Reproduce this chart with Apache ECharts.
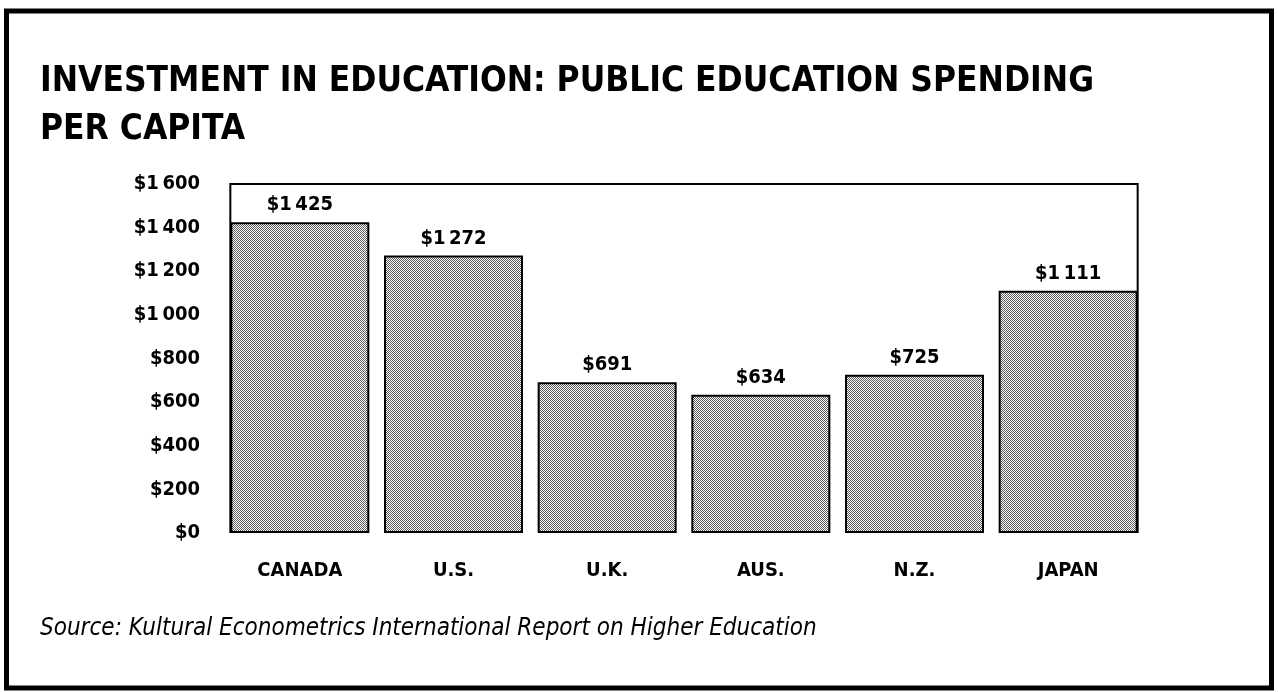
<!DOCTYPE html>
<html>
<head>
<meta charset="utf-8">
<script src="https://cdn.jsdelivr.net/npm/echarts@6/dist/echarts.min.js"></script>
<style>
  html, body { margin: 0; padding: 0; background: #fff; }
  #chart { width: 1278px; height: 692px; }
</style>
</head>
<body>
<div id="chart"></div>
<script>
const titleLines = ['INVESTMENT IN EDUCATION: PUBLIC EDUCATION SPENDING', 'PER CAPITA'];
const categories = ['CANADA', 'U.S.', 'U.K.', 'AUS.', 'N.Z.', 'JAPAN'];
const spending = [1425, 1272, 691, 634, 725, 1111];
const yMin = 0, yMax = 1600, yStep = 200;
const sourceText = 'Source: Kultural Econometrics International Report on Higher Education';

const FONT = "'Liberation Sans Narrow', 'DejaVu Sans Condensed', 'Arial Narrow', sans-serif";

function money(v) {
  const s = String(Math.round(v));
  if (s.length > 3) return '$' + s.slice(0, s.length - 3) + '\u2009' + s.slice(s.length - 3);
  return '$' + s;
}

// dotted (halftone-like) fill pattern
const pat = document.createElement('canvas');
pat.width = 4; pat.height = 4;
const pctx = pat.getContext('2d');
pctx.fillStyle = '#ffffff';
pctx.fillRect(0, 0, 4, 4);
pctx.fillStyle = '#5a5a5a';
for (let y = 0; y < 4; y++) {
  for (let x = 0; x < 4; x++) {
    if ((x + y) % 2 === 0) pctx.fillRect(x, y, 1, 1);
  }
}

const BAR_W = 139;
const chart = echarts.init(document.getElementById('chart'), null, { renderer: 'canvas' });

const option = {
  backgroundColor: '#ffffff',
  animation: false,
  grid: { left: 223, right: 133, top: 184, bottom: 159, containLabel: false },
  xAxis: {
    type: 'category',
    data: categories,
    axisLine: { show: false },
    axisTick: { show: false },
    axisLabel: {
      margin: 28,
      color: '#000',
      fontFamily: FONT,
      fontWeight: 'bold',
      fontSize: 20
    }
  },
  yAxis: {
    type: 'value',
    min: yMin, max: yMax, interval: yStep,
    axisLine: { show: false },
    axisTick: { show: false },
    splitLine: { show: false },
    axisLabel: {
      margin: 23,
      color: '#000',
      fontFamily: FONT,
      fontWeight: 'bold',
      fontSize: 20,
      formatter: money
    }
  },
  series: [{
    type: 'bar',
    data: spending,
    barWidth: BAR_W,
    itemStyle: {
      color: { image: pat, repeat: 'repeat' },
      borderColor: '#000',
      borderWidth: 2
    },
    label: {
      show: true,
      position: 'top',
      distance: 7,
      color: '#000',
      fontFamily: FONT,
      fontWeight: 'bold',
      fontSize: 20,
      formatter: p => money(p.value)
    }
  }],
  graphic: [
    {
      type: 'rect',
      shape: { x: 6.5, y: 11, width: 1265, height: 677 },
      style: { fill: 'none', stroke: '#000', lineWidth: 5 },
      silent: true
    },
    {
      type: 'text',
      left: 40, top: 58,
      style: {
        text: titleLines.join('\n'),
        font: "bold 35px " + FONT,
        fill: '#000',
        lineHeight: 48
      }
    },
    {
      type: 'text',
      left: 40, top: 617,
      style: {
        text: sourceText,
        font: "italic 24px " + FONT,
        fill: '#000'
      }
    }
  ]
};
chart.setOption(option);

// frame around plotting area, aligned to the outer bar edges
const c0 = chart.convertToPixel({ xAxisIndex: 0 }, categories[0]);
const c5 = chart.convertToPixel({ xAxisIndex: 0 }, categories[categories.length - 1]);
const yTop = chart.convertToPixel({ yAxisIndex: 0 }, yMax);
const yBot = chart.convertToPixel({ yAxisIndex: 0 }, yMin);
const xl = c0 - BAR_W / 2, xr = c5 + BAR_W / 2;
chart.setOption({
  graphic: option.graphic.concat([{
    type: 'polyline',
    shape: { points: [[xl, yBot], [xl, yTop], [xr, yTop], [xr, yBot]] },
    style: { fill: 'none', stroke: '#000', lineWidth: 2 },
    silent: true,
    z: 10
  }])
});
</script>
</body>
</html>
